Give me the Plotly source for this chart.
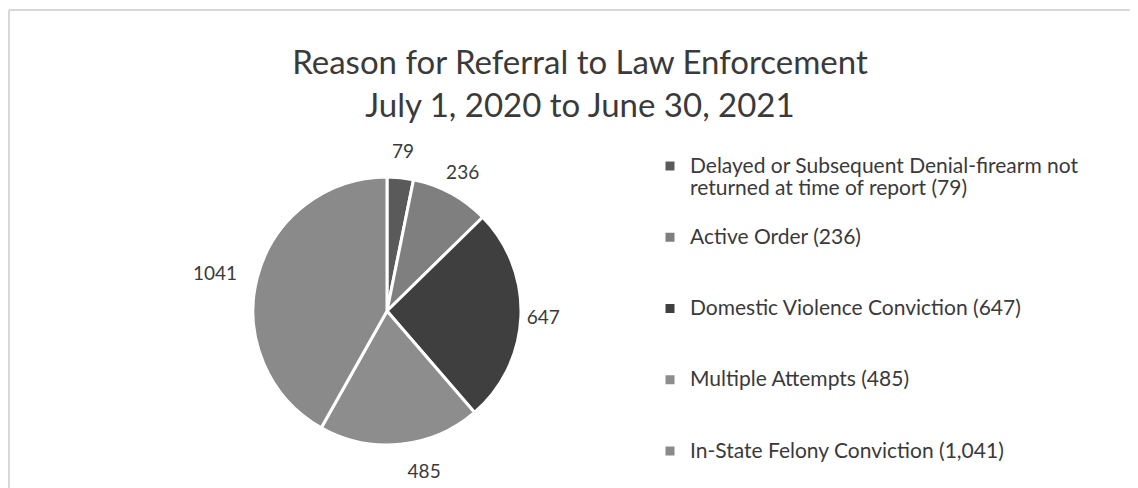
import plotly.graph_objects as go

labels = [
    "Delayed or Subsequent Denial-firearm not<br>returned at time of report (79)",
    "Active Order (236)",
    "Domestic Violence Conviction (647)",
    "Multiple Attempts (485)",
    "In-State Felony Conviction (1,041)",
]
values = [79, 236, 647, 485, 1041]
colors = ["#5a5a5a", "#7f7f7f", "#3f3f3f", "#8d8d8d", "#8a8a8a"]
pad_lines = [1, 2, 2, 2, 0]

SPAN = "<span style='font-size:21px'>"
legend_labels = [
    SPAN + lab.replace("<br>", "</span><br>" + SPAN) + "</span>" + "<br> " * n
    for lab, n in zip(labels, pad_lines)
]

# page has an 8px body offset, so the figure is laid out 8px smaller
W, H = 1130, 480
cx, cy, r = 379, 303, 134
R_ring = H - cy   # outer radius of the invisible ring carrying labels of the thin slices
R_out = 149       # invisible pie whose outside labels sit a bit further out

def dom(rad):
    return dict(x=[(cx - rad) / W, (cx + rad) / W], y=[(H - cy - rad) / H, (H - cy + rad) / H])

label_font = dict(size=19, color="#3a3a3a", family="Lato")
clear = ["rgba(0,0,0,0)"] * len(values)

fig = go.Figure()
fig.add_trace(go.Pie(
    labels=legend_labels,
    values=values,
    sort=False,
    direction="clockwise",
    rotation=0,
    marker=dict(colors=colors, line=dict(color="white", width=3)),
    textposition=["none", "none", "outside", "none", "none"],
    texttemplate="%{value}",
    outsidetextfont=label_font,
    domain=dom(r),
    hoverinfo="value",
))
fig.add_trace(go.Pie(
    labels=legend_labels,
    values=values,
    sort=False,
    direction="clockwise",
    rotation=0,
    marker=dict(colors=clear, line=dict(width=0)),
    textposition=["none", "none", "none", "outside", "outside"],
    texttemplate="%{value}",
    outsidetextfont=label_font,
    domain=dom(R_out),
    hoverinfo="skip",
    showlegend=False,
))
fig.add_trace(go.Pie(
    labels=legend_labels,
    values=values,
    sort=False,
    direction="clockwise",
    rotation=0,
    hole=(r + 6) / R_ring,
    marker=dict(colors=clear, line=dict(width=0)),
    textposition=["inside", "inside", "none", "none", "none"],
    insidetextorientation="horizontal",
    texttemplate="%{value}",
    insidetextfont=label_font,
    domain=dom(R_ring),
    hoverinfo="skip",
    showlegend=False,
))

fig.update_layout(
    width=W, height=H,
    margin=dict(l=0, r=0, t=0, b=0),
    paper_bgcolor="white",
    font=dict(family="Lato", color="#3a3a3a"),
    uniformtext=dict(minsize=19, mode="show"),
    title=dict(
        text="Reason for Referral to Law Enforcement<br>July 1, 2020 to June 30, 2021",
        x=572 / W, xanchor="center", y=1 - 66 / H, yanchor="middle",
        font=dict(size=33, family="Lato", color="#3a3a3a"),
    ),
    legend=dict(
        x=642 / W, xanchor="left", y=1 - 140 / H, yanchor="top",
        valign="top",
        font=dict(size=17.5, family="Lato", color="#3a3a3a"),
        bgcolor="rgba(0,0,0,0)",
    ),
    shapes=[
        dict(type="line", xref="paper", yref="paper", x0=1 / W, x1=1, y0=1 - 2 / H, y1=1 - 2 / H,
             line=dict(color="#cccccc", width=1.5)),
        dict(type="line", xref="paper", yref="paper", x0=1 / W, x1=1 / W, y0=0, y1=1 - 2 / H,
             line=dict(color="#cccccc", width=1.5)),
    ],
)

fig.write_html("out.html")
